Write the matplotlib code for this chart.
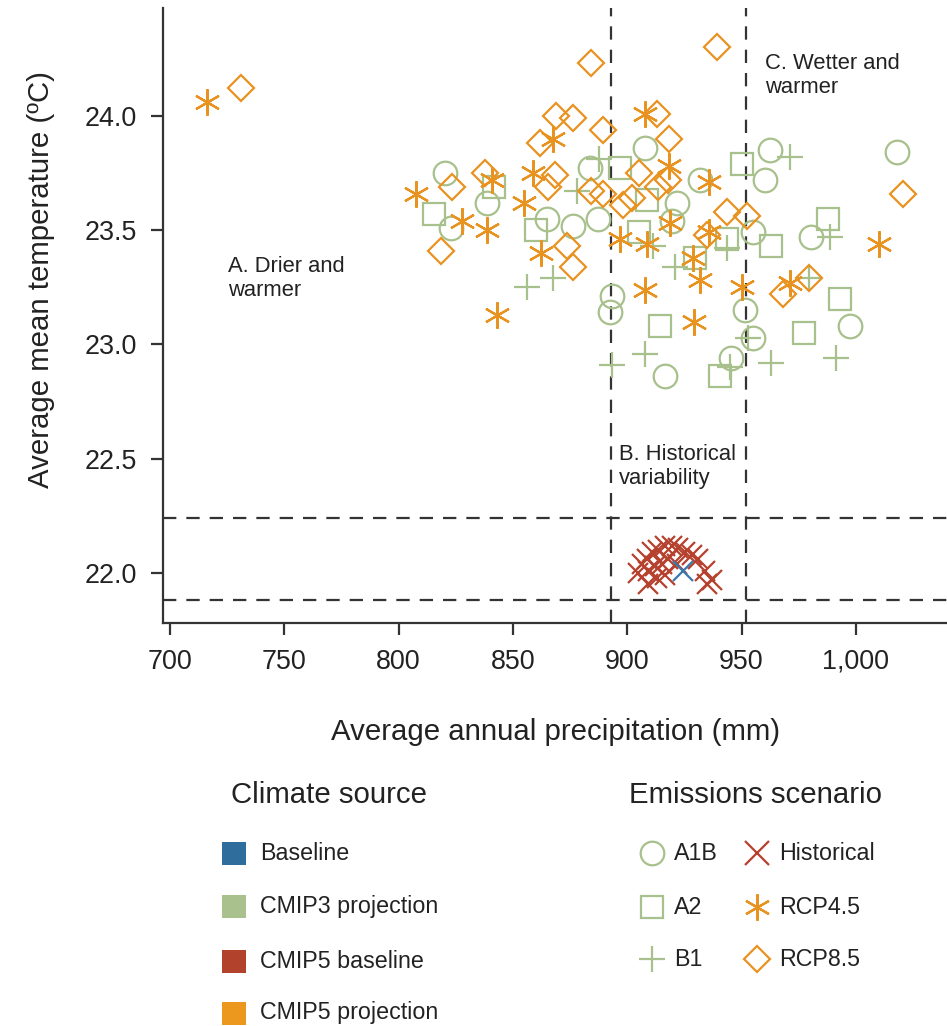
import matplotlib.pyplot as plt
from matplotlib import font_manager
from matplotlib.lines import Line2D
from matplotlib.patches import Rectangle
from matplotlib.ticker import FuncFormatter

# pick a narrow sans if it is there, otherwise shrink the sizes a bit
names = {f.name for f in font_manager.fontManager.ttflist}
if 'Liberation Sans Narrow' in names:
    FONT, k = 'Liberation Sans Narrow', 1.0
else:
    FONT, k = 'Liberation Sans', 0.88
plt.rcParams['font.family'] = FONT

# colours
GREEN = '#a8c08b'
ORANGE = '#e8921f'
RED = '#b5412e'
BLUE = '#3a78ab'
DARK = '#333333'
TXT = '#222222'

# CMIP3 projections (green)
a1b_x = [820.3, 838.7, 822.9, 864.9, 876.3, 887.2, 883.7, 907.8, 931.9, 962.5, 960.3, 1018.0,
         921.8, 919.6, 955.0, 980.4, 893.4, 892.5, 951.5, 997.5, 955.0, 945.4, 916.5]
a1b_y = [23.75, 23.62, 23.51, 23.55, 23.52, 23.55, 23.77, 23.86, 23.72, 23.85, 23.72, 23.84,
         23.62, 23.54, 23.49, 23.47, 23.21, 23.14, 23.15, 23.08, 23.03, 22.94, 22.86]

a2_x = [815.5, 841.7, 860.1, 896.9, 950.2, 908.7, 905.2, 943.7, 962.9, 987.8, 929.7, 993.1,
        914.4, 977.3, 940.6]
a2_y = [23.57, 23.69, 23.50, 23.77, 23.79, 23.63, 23.49, 23.46, 23.43, 23.55, 23.38, 23.20,
        23.08, 23.05, 22.86]

b1_x = [856.2, 867.5, 878.0, 887.7, 893.4, 911.3, 920.9, 943.7, 971.3, 988.7, 979.5, 952.8,
        945.0, 962.9, 991.3, 907.8]
b1_y = [23.25, 23.29, 23.67, 23.81, 22.91, 23.43, 23.34, 23.42, 23.82, 23.47, 23.29, 23.03,
        22.90, 22.92, 22.94, 22.96]

# CMIP5 projections (orange)
rcp45_x = [716.2, 807.6, 840.9, 827.7, 838.7, 854.9, 858.8, 862.3, 843.0, 867.5, 907.8, 918.3,
           935.8, 918.8, 896.9, 908.7, 935.8, 928.8, 931.9, 950.2, 971.2, 1010.2, 907.8, 929.2]
rcp45_y = [24.06, 23.66, 23.72, 23.54, 23.50, 23.62, 23.75, 23.40, 23.13, 23.90, 24.01, 23.78,
           23.71, 23.53, 23.46, 23.44, 23.49, 23.38, 23.28, 23.25, 23.27, 23.44, 23.24, 23.10]

rcp85_x = [731.1, 884.2, 939.3, 868.9, 876.3, 889.4, 913.0, 918.3, 861.9, 823.4, 837.8, 818.5,
           868.4, 865.4, 873.7, 876.3, 884.2, 889.4, 902.1, 898.2, 905.2, 913.5, 917.8, 943.7,
           952.4, 934.9, 968.2, 979.5, 1020.6]
rcp85_y = [24.12, 24.23, 24.30, 24.00, 23.99, 23.94, 24.01, 23.90, 23.88, 23.69, 23.75, 23.41,
           23.74, 23.69, 23.43, 23.34, 23.67, 23.66, 23.64, 23.61, 23.75, 23.69, 23.72, 23.58,
           23.56, 23.48, 23.22, 23.29, 23.66]

# CMIP5 baseline (historical) and observed baseline
hist_x = [906.3, 908.5, 910.7, 913.6, 916.5, 919.5, 922.4, 925.3, 928.2, 931.1, 909.2, 912.2,
          915.1, 918.0, 921.6, 912.9, 916.5, 934.0, 936.9, 934.8, 909.1, 904.5]
hist_y = [22.04, 22.06, 22.09, 22.10, 22.12, 22.12, 22.11, 22.09, 22.08, 22.06, 22.01, 22.03,
          22.04, 22.06, 22.04, 21.98, 21.99, 22.01, 21.97, 21.95, 21.95, 22.00]
base_x = [924.5]
base_y = [22.01]

# region limits
hist_precip = [893, 952]
hist_temp = [21.88, 22.24]

x_ticks = [700, 750, 800, 850, 900, 950, 1000]
y_ticks = [22.0, 22.5, 23.0, 23.5, 24.0]

source_labels = ['Baseline', 'CMIP3 projection', 'CMIP5 baseline', 'CMIP5 projection']
source_colors = ['#2f6e9c', '#a9c18c', '#b3422d', '#ec981f']

W, H = 947, 1026
fig = plt.figure(figsize=(W / 100, H / 100), dpi=100)
ax = fig.add_axes([163 / W, 1 - 623 / H, 1 - 163 / W, 615 / H])

mk = dict(linestyle='none', mfc='none', mew=1.6)
ax.plot(a1b_x, a1b_y, marker='o', ms=17, mec=GREEN, **mk)
ax.plot(a2_x, a2_y, marker='s', ms=16.5, mec=GREEN, **mk)
ax.plot(b1_x, b1_y, marker='+', ms=19, mec=GREEN, **mk)
ax.plot(rcp45_x, rcp45_y, marker=(6, 2, 0), ms=19, mec=ORANGE, **mk)
ax.plot(rcp85_x, rcp85_y, marker='D', ms=13.5, mec=ORANGE, **mk)
ax.plot(hist_x, hist_y, marker='x', ms=14, mec=RED, **mk)
ax.plot(base_x, base_y, marker='x', ms=14, mec=BLUE, **mk)

dash = dict(color=DARK, lw=1.6, ls=(0, (6, 4.5)), zorder=0)
for v in hist_precip:
    ax.axvline(v, **dash)
for v in hist_temp:
    ax.axhline(v, **dash)

ax.text(725.4, 23.29, 'A. Drier and\nwarmer', fontsize=18 * k, va='center', color=TXT)
ax.text(896.4, 22.465, 'B. Historical\nvariability', fontsize=18 * k, va='center', color=TXT)
ax.text(960.3, 24.175, 'C. Wetter and\nwarmer', fontsize=18 * k, va='center', color=TXT)

ax.set_xlim(696.9, 1039.9)
ax.set_ylim(21.781, 24.472)
ax.set_xticks(x_ticks)
ax.set_yticks(y_ticks)
ax.xaxis.set_major_formatter(FuncFormatter(lambda v, _: f'{int(v):,}'))
ax.yaxis.set_major_formatter(FuncFormatter(lambda v, _: f'{v:.1f}'))
for s in ['top', 'right']:
    ax.spines[s].set_visible(False)
for s in ['left', 'bottom']:
    ax.spines[s].set_color(DARK)
    ax.spines[s].set_linewidth(1.6)
ax.tick_params(length=8.5, width=1.6, color=DARK, labelsize=22 * k, pad=10, labelcolor=TXT)

ax.set_xlabel('Average annual precipitation (mm)', fontsize=24 * k, color=TXT)
ax.set_ylabel('Average mean temperature (ºC)', fontsize=24 * k, color=TXT)
ax.xaxis.set_label_coords(0.501, -0.155)
ax.yaxis.set_label_coords(-0.138, 0.558)


def fx(px):
    return px / W


def fy(py):
    return 1 - py / H


# legend: climate source
fig.text(fx(329), fy(795), 'Climate source', fontsize=24 * k, ha='center', va='center', color=TXT)
rows = [853, 906, 961, 1013]
for lab, col, r in zip(source_labels, source_colors, rows):
    fig.add_artist(Rectangle((fx(222), fy(r + 11.5)), 24 / W, 23 / H, transform=fig.transFigure,
                             facecolor=col, edgecolor='none'))
    fig.text(fx(260), fy(r), lab, fontsize=19 * k, va='center', color=TXT)

# legend: emissions scenario
fig.text(fx(755), fy(795), 'Emissions scenario', fontsize=24 * k, ha='center', va='center', color=TXT)
scen = [('A1B', 'o', 17, GREEN, 652, 853), ('A2', 's', 16.5, GREEN, 652, 907),
        ('B1', '+', 19, GREEN, 652, 959), ('Historical', 'x', 17, RED, 757, 853),
        ('RCP4.5', (6, 2, 0), 19, ORANGE, 757, 907), ('RCP8.5', 'D', 13.5, ORANGE, 757, 959)]
for lab, m, size, col, px, py in scen:
    fig.add_artist(Line2D([fx(px)], [fy(py)], transform=fig.transFigure, marker=m, ms=size,
                          mec=col, **mk))
    fig.text(fx(px + 22), fy(py), lab, fontsize=19 * k, va='center', color=TXT)

fig.savefig('out.png', dpi=100)
